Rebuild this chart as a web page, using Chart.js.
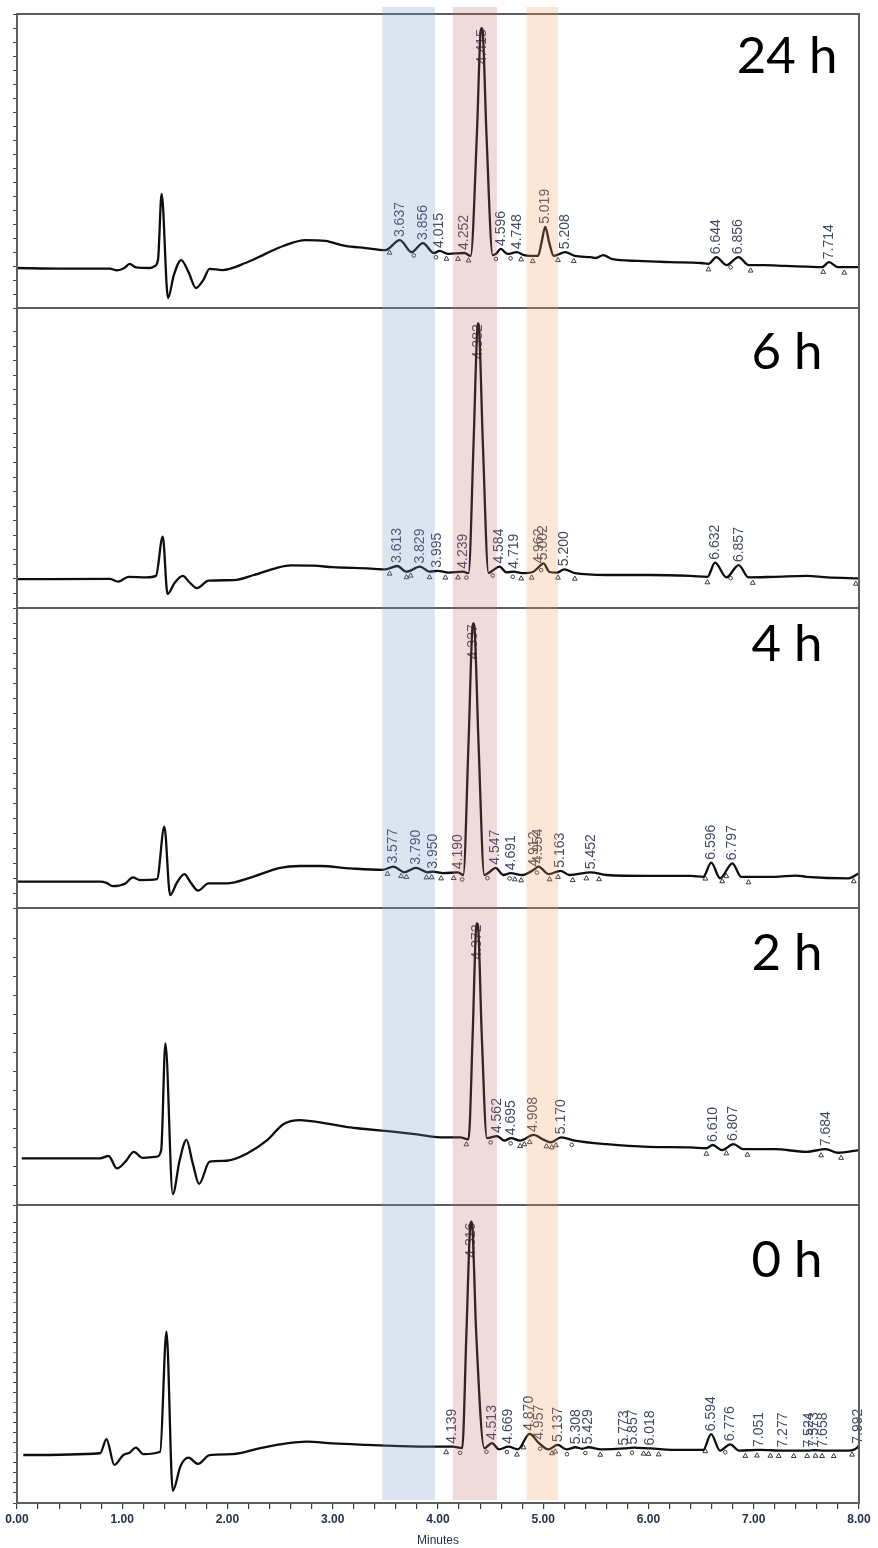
<!DOCTYPE html>
<html>
<head>
<meta charset="utf-8">
<title>HPLC chromatograms over time</title>
<script src="https://cdn.jsdelivr.net/npm/chart.js@4.4.1/dist/chart.umd.min.js"></script>
<style>
  html, body { margin: 0; padding: 0; background: #fff; }
  canvas { display: block; }
</style>
</head>
<body>
<canvas id="chrom" width="878" height="1548"></canvas>
<script>
// ---- Sampling times (one chromatogram per run) ----
const runNames = ['24 h', '6 h', '4 h', '2 h', '0 h'];

// ---- Detector traces: [retention time (min), signal (% of panel range)] ----
const trace24h = [
  [0, 13.6], [0.41, 13.4], [0.88, 13.4], [0.95, 12.8], [1.02, 13.6], [1.07, 15.0], [1.13, 13.8],
  [1.26, 13.6], [1.31, 14.3], [1.34, 16.5], [1.374, 38.8], [1.435, 3.4], [1.49, 11.2], [1.56, 16.3],
  [1.63, 12.2], [1.70, 6.8], [1.77, 9.5], [1.83, 13.3], [1.95, 12.9], [2.17, 15.3], [2.36, 18.4],
  [2.53, 21.1], [2.74, 23.1], [2.93, 22.8], [3.12, 21.1], [3.31, 20.4], [3.50, 19.7], [3.637, 23.1],
  [3.75, 19.0], [3.856, 22.1], [3.96, 18.7], [4.015, 19.4], [4.10, 18.4], [4.252, 18.7], [4.31, 17.7],
  [4.37, 59.5], [4.405, 94.0], [4.415, 95.2], [4.425, 94.0], [4.46, 59.5], [4.52, 18.0], [4.55, 18.4],
  [4.596, 20.1], [4.66, 18.4], [4.748, 19.0], [4.82, 18.0], [4.95, 17.7], [4.985, 22.5], [5.019, 27.6],
  [5.055, 22.5], [5.10, 17.7], [5.208, 19.0], [5.30, 17.7], [5.45, 17.3], [5.50, 17.0], [5.57, 18.0],
  [5.65, 16.7], [5.90, 16.0], [6.20, 15.6], [6.50, 15.3], [6.57, 15.0], [6.644, 17.3], [6.74, 14.6],
  [6.856, 17.3], [6.95, 14.6], [7.10, 14.6], [7.30, 14.3], [7.50, 14.1], [7.65, 13.9], [7.714, 15.6],
  [7.80, 13.9], [8.0, 13.9]
];
const trace6h = [
  [0, 9.6], [0.88, 9.7], [0.96, 8.8], [1.06, 10.4], [1.23, 10.2], [1.32, 10.7], [1.385, 23.8],
  [1.43, 4.7], [1.50, 8.5], [1.575, 10.7], [1.64, 8.5], [1.71, 6.6], [1.82, 9.1], [2.06, 9.3],
  [2.25, 11.0], [2.47, 13.4], [2.60, 14.2], [2.82, 14.1], [3.00, 13.6], [3.33, 13.2], [3.50, 12.9],
  [3.613, 14.0], [3.70, 12.1], [3.829, 13.8], [3.92, 12.1], [3.995, 12.4], [4.10, 11.8], [4.239, 12.1],
  [4.29, 11.6], [4.338, 55.0], [4.374, 93.5], [4.382, 94.9], [4.390, 93.5], [4.426, 55.0], [4.48, 11.7],
  [4.52, 12.5], [4.584, 13.8], [4.65, 11.9], [4.719, 12.1], [4.80, 11.6], [4.90, 12.0], [4.962, 13.8],
  [5.002, 14.9], [5.06, 12.0], [5.13, 11.8], [5.200, 12.9], [5.30, 11.6], [5.60, 11.0], [6.00, 11.0],
  [6.40, 10.7], [6.56, 10.4], [6.632, 15.1], [6.74, 10.2], [6.857, 14.3], [6.95, 10.2], [7.20, 10.4],
  [7.50, 10.7], [7.70, 10.2], [8.0, 9.9]
];
const trace4h = [
  [0, 8.8], [0.79, 8.8], [0.85, 8.4], [0.91, 7.3], [1.03, 8.2], [1.10, 10.2], [1.17, 9.3],
  [1.33, 9.6], [1.40, 27.1], [1.455, 4.3], [1.52, 8.5], [1.59, 11.3], [1.65, 8.5], [1.72, 5.8],
  [1.82, 8.2], [1.99, 8.2], [2.24, 10.4], [2.50, 13.4], [2.69, 14.0], [2.88, 14.0], [3.17, 13.2],
  [3.47, 12.7], [3.577, 13.8], [3.68, 11.9], [3.790, 13.4], [3.90, 11.9], [3.950, 12.1], [4.05, 11.6],
  [4.190, 11.9], [4.24, 11.0], [4.29, 55.0], [4.327, 93.5], [4.337, 94.9], [4.347, 93.5], [4.385, 55.0],
  [4.44, 11.0], [4.49, 12.0], [4.547, 13.4], [4.62, 11.0], [4.691, 11.6], [4.80, 11.0], [4.912, 12.8],
  [4.954, 13.8], [5.05, 11.3], [5.163, 12.4], [5.25, 11.0], [5.452, 11.9], [5.60, 11.0], [6.00, 10.7],
  [6.40, 10.7], [6.52, 10.4], [6.596, 15.1], [6.68, 9.9], [6.797, 14.9], [6.88, 10.4], [7.20, 10.4],
  [7.40, 10.8], [7.50, 10.4], [7.90, 9.9], [8.0, 11.6]
];
const trace2h = [
  [0.045, 15.7], [0.79, 15.7], [0.87, 16.5], [0.95, 12.3], [1.03, 14.6], [1.11, 17.9], [1.19, 15.9],
  [1.33, 16.3], [1.37, 18.5], [1.41, 54.4], [1.48, 3.7], [1.545, 15.0], [1.61, 21.9], [1.67, 14.0],
  [1.73, 7.1], [1.83, 14.6], [1.99, 14.9], [2.19, 17.4], [2.38, 21.9], [2.53, 27.2], [2.69, 28.6],
  [2.88, 27.8], [3.14, 26.2], [3.33, 25.5], [3.57, 24.7], [3.80, 23.8], [4.02, 22.8], [4.21, 22.8],
  [4.29, 22.1], [4.33, 58.0], [4.362, 93.4], [4.372, 94.8], [4.382, 93.4], [4.415, 58.0], [4.465, 22.5],
  [4.562, 23.2], [4.63, 21.7], [4.695, 22.5], [4.78, 21.7], [4.908, 23.6], [5.00, 22.0], [5.07, 21.1],
  [5.170, 22.8], [5.30, 21.7], [5.60, 20.5], [6.00, 19.6], [6.40, 19.4], [6.55, 19.1], [6.610, 20.2],
  [6.70, 18.5], [6.807, 20.5], [6.90, 18.8], [7.20, 18.8], [7.50, 17.9], [7.684, 18.8], [7.80, 17.6],
  [8.0, 18.5]
];
const trace0h = [
  [0.06, 16.1], [0.79, 16.7], [0.85, 21.4], [0.925, 12.8], [1.01, 16.1], [1.07, 16.9], [1.13, 18.6],
  [1.20, 16.4], [1.36, 17.2], [1.42, 57.5], [1.48, 4.1], [1.555, 12.5], [1.63, 15.2], [1.72, 13.1],
  [1.83, 16.1], [2.05, 16.4], [2.31, 18.4], [2.56, 20.0], [2.75, 20.6], [3.00, 20.0], [3.33, 19.5],
  [3.64, 19.1], [3.95, 18.9], [4.139, 18.9], [4.23, 18.4], [4.27, 57.0], [4.306, 93.0], [4.316, 94.4],
  [4.326, 93.0], [4.363, 57.0], [4.44, 18.4], [4.513, 20.1], [4.58, 18.0], [4.669, 18.9], [4.76, 18.0],
  [4.870, 23.2], [4.957, 20.2], [5.05, 18.0], [5.137, 19.5], [5.22, 18.0], [5.308, 18.7], [5.37, 18.2],
  [5.429, 18.7], [5.55, 18.0], [5.773, 18.3], [5.857, 18.6], [6.018, 18.3], [6.30, 17.8], [6.52, 17.8],
  [6.594, 23.1], [6.68, 17.6], [6.776, 19.7], [6.86, 17.6], [7.051, 17.8], [7.277, 17.6], [7.524, 17.6],
  [7.573, 17.7], [7.658, 17.6], [7.90, 17.6], [7.992, 18.9], [8.0, 19.5]
];

// ---- Integrated peak retention times (as printed) ----
const peaks24h = ['3.637', '3.856', '4.015', '4.252', '4.415', '4.596', '4.748', '5.019', '5.208', '6.644', '6.856', '7.714'];
const peaks6h  = ['3.613', '3.829', '3.995', '4.239', '4.382', '4.584', '4.719', '4.962', '5.002', '5.200', '6.632', '6.857'];
const peaks4h  = ['3.577', '3.790', '3.950', '4.190', '4.337', '4.547', '4.691', '4.912', '4.954', '5.163', '5.452', '6.596', '6.797'];
const peaks2h  = ['4.372', '4.562', '4.695', '4.908', '5.170', '6.610', '6.807', '7.684'];
const peaks0h  = ['4.139', '4.316', '4.513', '4.669', '4.870', '4.957', '5.137', '5.308', '5.429', '5.773', '5.857', '6.018',
                  '6.594', '6.776', '7.051', '7.277', '7.524', '7.573', '7.658', '7.992'];

// ---- Integration baseline points (triangles) and drop lines (circles), min ----
const bounds24h = [3.54, 4.08, 4.19, 4.29, 4.79, 4.90, 5.14, 5.29, 6.57, 6.97, 7.66, 7.86];
const drops24h  = [3.77, 3.98, 4.55, 4.69, 6.78];
const bounds6h  = [3.54, 3.70, 3.74, 3.92, 4.07, 4.19, 4.79, 4.89, 5.14, 5.30, 6.56, 6.99, 7.97];
const drops6h   = [4.27, 4.52, 4.71, 4.98, 6.78];
const bounds4h  = [3.52, 3.65, 3.70, 3.89, 3.94, 4.03, 4.15, 4.73, 4.79, 5.06, 5.14, 5.28, 5.41, 5.53, 6.54, 6.70, 6.74, 6.95, 7.95];
const drops4h   = [4.23, 4.47, 4.68, 4.94];
const bounds2h  = [4.27, 4.78, 4.82, 4.87, 5.03, 5.08, 5.12, 6.55, 6.74, 6.94, 7.64, 7.83];
const drops2h   = [4.50, 4.69, 5.27];
const bounds0h  = [4.078, 4.75, 4.813, 5.083, 5.114, 5.542, 5.716, 5.953, 6.00, 6.096, 6.54, 6.92, 7.03, 7.158, 7.237,
                   7.38, 7.507, 7.586, 7.649, 7.76, 7.934];
const drops0h   = [4.21, 4.46, 4.655, 4.97, 5.225, 5.40, 5.843, 6.73];

// ---- Highlighted retention windows (min) ----
const windowStart = [3.47, 4.14, 4.84];
const windowEnd   = [3.97, 4.56, 5.14];
const windowColor = ['rgba(111,147,195,0.25)', 'rgba(190,105,105,0.24)', 'rgba(243,159,91,0.25)'];

// ---- Time axis ----
const timeMin = 0, timeMax = 8, timeStep = 0.2;

// Panels listed bottom-up: the stacked layout puts the last scale on top.
const panels = [
  { id: 'p0',  name: runNames[4], trace: trace0h,  peaks: peaks0h,  bounds: bounds0h,  drops: drops0h,  weight: 298, step: 3.36, nameDy: 72 },
  { id: 'p2',  name: runNames[3], trace: trace2h,  peaks: peaks2h,  bounds: bounds2h,  drops: drops2h,  weight: 297, step: 6.4,  nameDy: 62 },
  { id: 'p4',  name: runNames[2], trace: trace4h,  peaks: peaks4h,  bounds: bounds4h,  drops: drops4h,  weight: 300, step: 5,    nameDy: 53 },
  { id: 'p6',  name: runNames[1], trace: trace6h,  peaks: peaks6h,  bounds: bounds6h,  drops: drops6h,  weight: 300, step: 4.85, nameDy: 61 },
  { id: 'p24', name: runNames[0], trace: trace24h, peaks: peaks24h, bounds: bounds24h, drops: drops24h, weight: 294, step: 4.75, nameDy: 59 }
];

// Signal at a given time along a trace, used to place annotations on the line.
function signalAt(trace, t) {
  for (let i = 1; i < trace.length; i++) {
    const [x0, y0] = trace[i - 1], [x1, y1] = trace[i];
    if (t <= x1) {
      if (t <= x0) return y0;
      return y0 + (y1 - y0) * (t - x0) / (x1 - x0);
    }
  }
  return trace[trace.length - 1][1];
}

const frameColor = '#5e5e5e';

const chromPlugin = {
  id: 'chromAnnotations',
  beforeDatasetsDraw(chart) {
    const { ctx } = chart;
    const xs = chart.scales.x;
    panels.forEach(p => {
      const ys = chart.scales[p.id];
      ctx.save();
      // retention-time labels, written upward from each peak
      ctx.font = '14px "Liberation Sans", Arial, sans-serif';
      ctx.fillStyle = '#434a62';
      ctx.textAlign = 'left';
      ctx.textBaseline = 'middle';
      p.peaks.forEach(lbl => {
        const t = parseFloat(lbl);
        const px = xs.getPixelForValue(t);
        const apex = ys.getPixelForValue(signalAt(p.trace, t));
        const len = ctx.measureText(lbl).width;
        let start = apex - 3;
        if (start - len < ys.top + 2) start = apex + len + 1;   // tall peaks: label sits inside the peak
        ctx.save();
        ctx.translate(px, start);
        ctx.rotate(-Math.PI / 2);
        ctx.fillText(lbl, 0, 0);
        ctx.restore();
      });
      // integration marks under the baseline
      ctx.strokeStyle = '#3c3c3c';
      ctx.lineWidth = 1;
      p.bounds.forEach(t => {
        const px = xs.getPixelForValue(t);
        const py = ys.getPixelForValue(signalAt(p.trace, t)) + 5;
        ctx.beginPath();
        ctx.moveTo(px - 2.4, py + 2);
        ctx.lineTo(px, py - 2.2);
        ctx.lineTo(px + 2.4, py + 2);
        ctx.closePath();
        ctx.stroke();
      });
      p.drops.forEach(t => {
        const px = xs.getPixelForValue(t);
        const py = ys.getPixelForValue(signalAt(p.trace, t)) + 5;
        ctx.beginPath();
        ctx.arc(px, py, 1.8, 0, Math.PI * 2);
        ctx.stroke();
      });
      ctx.restore();
    });
  },
  afterDatasetsDraw(chart) {
    const { ctx, chartArea } = chart;
    const xs = chart.scales.x;
    ctx.save();
    // panel frames
    ctx.strokeStyle = frameColor;
    ctx.lineWidth = 2;
    panels.forEach(p => {
      const ys = chart.scales[p.id];
      ctx.strokeRect(chartArea.left, ys.top, chartArea.right - chartArea.left, ys.bottom - ys.top);
    });
    // translucent retention windows across all runs
    const top = chartArea.top - 7, bottom = chartArea.bottom - 3;
    windowStart.forEach((t0, i) => {
      const x0 = xs.getPixelForValue(t0), x1 = xs.getPixelForValue(windowEnd[i]);
      ctx.fillStyle = windowColor[i];
      ctx.fillRect(x0, top, x1 - x0, bottom - top);
    });
    ctx.restore();
  },
  afterDraw(chart) {
    const { ctx, chartArea } = chart;
    ctx.save();
    ctx.font = '51px Lato, "Open Sans", sans-serif';
    ctx.fillStyle = '#000';
    ctx.textAlign = 'center';
    ctx.textBaseline = 'alphabetic';
    panels.forEach(p => {
      const ys = chart.scales[p.id];
      ctx.fillText(p.name, chartArea.right - 72, ys.top + p.nameDy);
    });
    ctx.restore();
  }
};

const scales = {
  x: {
    type: 'linear',
    position: 'bottom',
    min: timeMin,
    max: timeMax,
    ticks: {
      stepSize: timeStep,
      autoSkip: false,
      maxRotation: 0,
      padding: 3,
      color: '#27304c',
      font: { family: '"Liberation Sans", Arial, sans-serif', size: 12, weight: 'bold' },
      callback: v => (Math.abs(v - Math.round(v)) < 1e-6 ? Number(v).toFixed(2) : '')
    },
    grid: { drawOnChartArea: false, drawTicks: true, tickLength: 6, color: '#3a3a3a', lineWidth: 1.2 },
    border: { display: true, color: frameColor, width: 2 },
    title: {
      display: true,
      text: 'Minutes',
      color: '#2a3048',
      font: { family: '"Liberation Sans", Arial, sans-serif', size: 12 },
      padding: { top: 0, bottom: 0 }
    },
    afterFit(scale) { scale.height = 45; }
  }
};
panels.forEach(p => {
  scales[p.id] = {
    type: 'linear',
    position: 'left',
    stack: 'runs',
    stackWeight: p.weight,
    offset: false,
    min: 0,
    max: 100,
    ticks: { display: false, stepSize: p.step },
    grid: {
      drawOnChartArea: false,
      drawTicks: true,
      tickLength: 4,
      lineWidth: 1,
      color: ctx => (p.id === 'p0' && ctx.index > 0 && ctx.index % 5 === 0 ? '#6f9bd3' : '#464646')
    },
    border: { display: true, color: frameColor, width: 2 },
    afterFit(scale) { scale.width = 17; }
  };
});

new Chart(document.getElementById('chrom'), {
  type: 'line',
  data: {
    datasets: panels.map(p => ({
      label: p.name,
      yAxisID: p.id,
      xAxisID: 'x',
      data: p.trace.map(([x, y]) => ({ x, y })),
      borderColor: '#0e0e0e',
      borderWidth: 2.3,
      pointRadius: 0,
      fill: false,
      cubicInterpolationMode: 'monotone'
    }))
  },
  options: {
    responsive: false,
    animation: false,
    devicePixelRatio: 1,
    events: [],
    layout: { padding: { top: 14, right: 19, bottom: 0, left: 0 } },
    plugins: { legend: { display: false }, tooltip: { enabled: false } },
    scales
  },
  plugins: [chromPlugin]
});
</script>
</body>
</html>
